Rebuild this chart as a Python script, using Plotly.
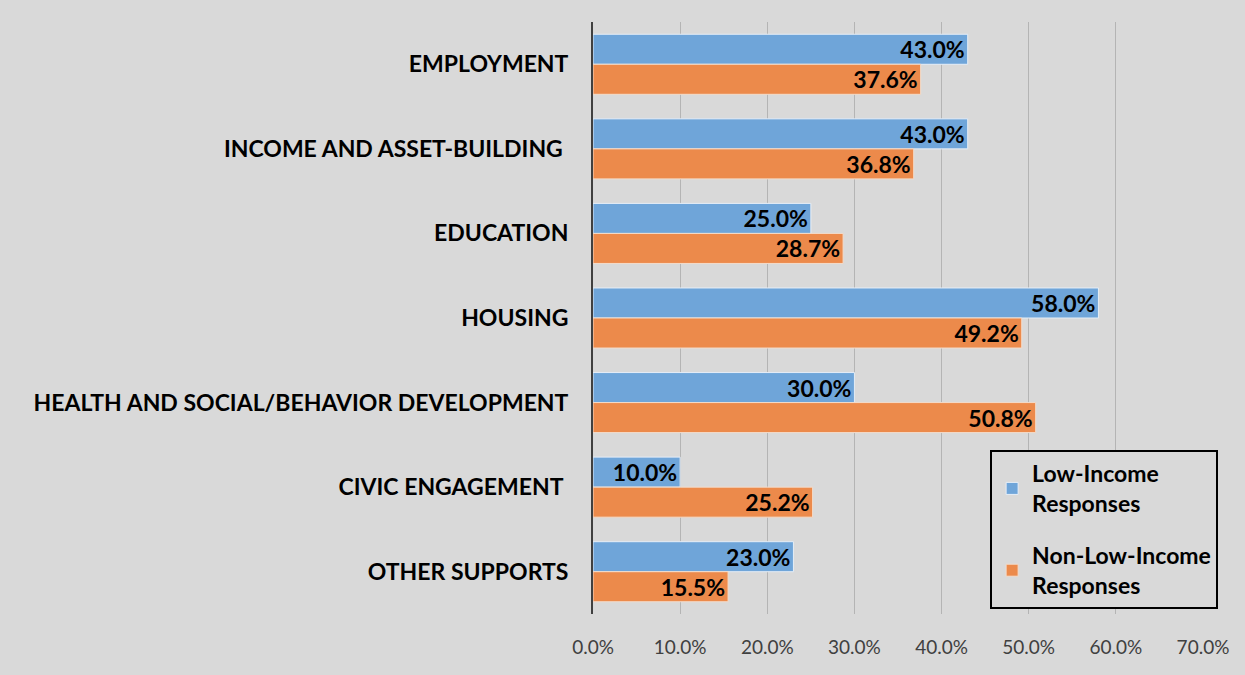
import plotly.graph_objects as go

categories = [
    "EMPLOYMENT",
    "INCOME AND ASSET-BUILDING\u00a0",
    "EDUCATION",
    "HOUSING",
    "HEALTH AND SOCIAL/BEHAVIOR DEVELOPMENT",
    "CIVIC ENGAGEMENT\u00a0",
    "OTHER SUPPORTS",
]
low_income = [0.430, 0.430, 0.250, 0.580, 0.300, 0.100, 0.230]
non_low_income = [0.376, 0.368, 0.287, 0.492, 0.508, 0.252, 0.155]
x_ticks = [0.0, 0.1, 0.2, 0.3, 0.4, 0.5, 0.6, 0.7]

FONT = "Lato"
BG = "#d9d9d9"

fig = go.Figure()

# Bars: blue first so it sits above orange in each group (y axis reversed)
fig.add_trace(go.Bar(
    y=categories, x=low_income, orientation="h",
    name="Low-Income<br>Responses", legendgroup="low",
    marker=dict(color="#6fa5d9", line=dict(color="#e6eef7", width=1)),
    texttemplate="%{x:.1%}", textposition="inside", insidetextanchor="end",
    constraintext="none",
    textfont=dict(family=FONT, size=23, color="black", weight="bold"),
    cliponaxis=False,
))
fig.add_trace(go.Bar(
    y=categories, x=non_low_income, orientation="h",
    name="Non-Low-Income<br>Responses", legendgroup="non",
    marker=dict(color="#ec8a4b", line=dict(color="#f3dccb", width=1)),
    texttemplate="%{x:.1%}", textposition="inside", insidetextanchor="end",
    constraintext="none",
    textfont=dict(family=FONT, size=23, color="black", weight="bold"),
    cliponaxis=False,
))

fig.update_layout(
    width=1245, height=675,
    paper_bgcolor=BG, plot_bgcolor=BG,
    barmode="group", bargap=0.29, bargroupgap=0.0,
    margin=dict(l=593, r=42, t=22, b=61),
    font=dict(family=FONT, size=20, color="#404040"),
    showlegend=True,
    legend=dict(
        x=0.651, y=0.277, xanchor="left", yanchor="top",
        bgcolor=BG, bordercolor="black", borderwidth=2,
        font=dict(family=FONT, size=23, color="black", weight="bold"),
        tracegroupgap=19, itemwidth=30, traceorder="grouped",
    ),
)

fig.update_xaxes(
    range=[0, 0.7], tickvals=x_ticks, tickformat=".1%",
    showgrid=True, gridcolor="#b4b4b4", gridwidth=1,
    zeroline=False, showline=False,
    tickfont=dict(family=FONT, size=19, color="#404040"),
    ticks="", ticklabelstandoff=20,
)
fig.update_yaxes(
    autorange="reversed",
    showline=True, linecolor="#404040", linewidth=2,
    showgrid=False, ticks="",
    tickfont=dict(family=FONT, size=23, color="black", weight="bold"),
    ticklabelstandoff=18,
)

fig.write_html(
    "out.html",
    config={"displayModeBar": False},
    post_script="document.body.style.margin='0';",
)
